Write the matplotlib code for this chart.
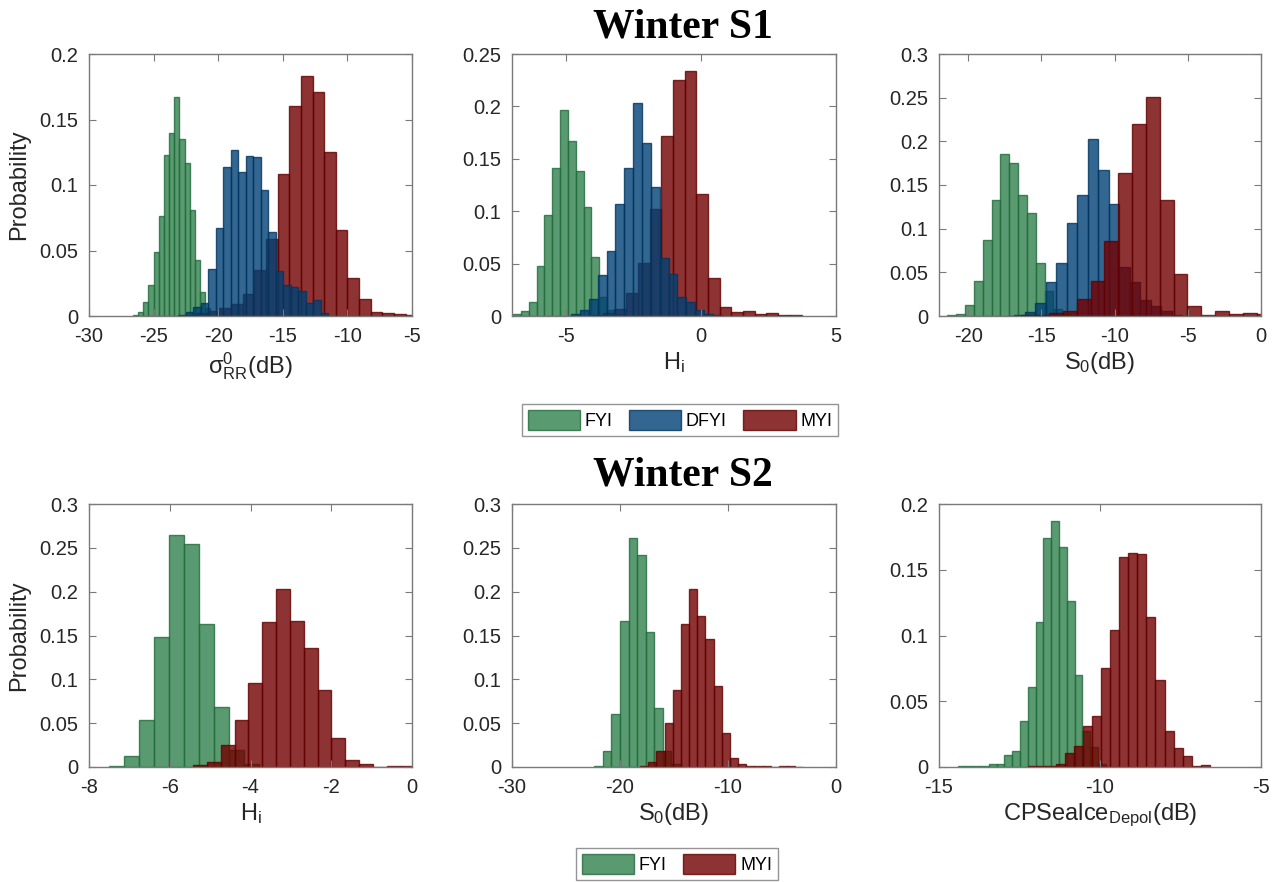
import numpy as np
import matplotlib
matplotlib.use("Agg")
import matplotlib.pyplot as plt
from matplotlib.patches import Patch
from matplotlib.ticker import FuncFormatter

plt.rcParams['font.family'] = ['Liberation Sans', 'DejaVu Sans']
plt.rcParams['mathtext.fontset'] = 'custom'
plt.rcParams['mathtext.rm'] = 'Liberation Sans'
plt.rcParams['mathtext.it'] = 'Liberation Sans:italic'

# ---- data: histogram bins (start, width) and probabilities ----
# Winter S1, sigma0_RR
s1a_fyi_start, s1a_fyi_width = -26.6, 0.4
s1a_fyi = [0.001, 0.003, 0.011, 0.024, 0.049, 0.076, 0.123, 0.140, 0.167,
           0.135, 0.117, 0.081, 0.043, 0.018, 0.006]
s1a_dfyi_start, s1a_dfyi_width = -23.1, 0.58
s1a_dfyi = [0.001, 0.003, 0.007, 0.010, 0.036, 0.067, 0.114, 0.127, 0.110,
            0.122, 0.121, 0.096, 0.064, 0.034, 0.024, 0.022, 0.019, 0.010,
            0.012, 0.002]
s1a_myi_start, s1a_myi_width = -22.6, 0.9
s1a_myi = [0.001, 0.002, 0.004, 0.006, 0.009, 0.017, 0.035, 0.059, 0.1085,
           0.160, 0.183, 0.171, 0.125, 0.066, 0.029, 0.013, 0.003, 0.0025,
           0.0015, 0.0005]

# Winter S1, H_i
s1b_fyi_start, s1b_fyi_width = -6.96, 0.29
s1b_fyi = [0.002, 0.005, 0.013, 0.048, 0.096, 0.141, 0.197, 0.167, 0.138,
           0.104, 0.056, 0.018, 0.006, 0.002]
s1b_dfyi_start, s1b_dfyi_width = -4.81, 0.328
s1b_dfyi = [0.002, 0.006, 0.016, 0.039, 0.0625, 0.107, 0.141, 0.203, 0.165,
            0.123, 0.055, 0.040, 0.018, 0.013, 0.006, 0.002, 0.001]
s1b_myi_start, s1b_myi_width = -4.07, 0.433
s1b_myi = [0.001, 0.0025, 0.007, 0.022, 0.051, 0.102, 0.172, 0.225, 0.234,
           0.116, 0.036, 0.009, 0.0035, 0.005, 0.002, 0.0025, 0.001, 0.0006]

# Winter S1, S_0
s1c_fyi_start, s1c_fyi_width = -21.43, 0.604
s1c_fyi = [0.0008, 0.002, 0.013, 0.040, 0.087, 0.133, 0.186, 0.175, 0.138,
           0.118, 0.061, 0.029, 0.008, 0.002]
s1c_dfyi_start, s1c_dfyi_width = -16.86, 0.718
s1c_dfyi = [0.001, 0.005, 0.0145, 0.0385, 0.061, 0.107, 0.138, 0.203, 0.167,
            0.128, 0.0565, 0.039, 0.018, 0.012, 0.006, 0.001]
s1c_myi_start, s1c_myi_width = -17.31, 0.945
s1c_myi = [0.0005, 0.0008, 0.0015, 0.003, 0.006, 0.020, 0.040, 0.086, 0.1635,
           0.220, 0.2505, 0.133, 0.048, 0.0115, 0.0015, 0.006, 0.0023, 0.003,
           0.002]

# Winter S2, H_i
s2a_fyi_start, s2a_fyi_width = -7.513, 0.373
s2a_fyi = [0.001, 0.013, 0.054, 0.148, 0.265, 0.254, 0.1635, 0.069, 0.019,
           0.003]
s2a_myi_start, s2a_myi_width = -5.424, 0.343
s2a_myi = [0.0027, 0.006, 0.0255, 0.054, 0.096, 0.165, 0.203, 0.166, 0.136,
           0.088, 0.0335, 0.008, 0.003, 0.0005, 0.001, 0.0015]

# Winter S2, S_0
s2b_fyi_start, s2b_fyi_width = -22.37, 0.79
s2b_fyi = [0.001, 0.018, 0.061, 0.166, 0.261, 0.242, 0.154, 0.067, 0.018,
           0.003]
s2b_myi_start, s2b_myi_width = -18.15, 0.757
s2b_myi = [0.001, 0.006, 0.018, 0.050, 0.0875, 0.1635, 0.2025, 0.172, 0.146,
           0.092, 0.039, 0.010, 0.003, 0.0008, 0.0015, 0.0008, 0.0004, 0.0008,
           0.0008, 0.0004]

# Winter S2, CPSealce_Depol
s2c_fyi_start, s2c_fyi_width = -14.42, 0.242
s2c_fyi = [0.0005, 0.0008, 0.0005, 0.0005, 0.002, 0.0025, 0.009, 0.012,
           0.035, 0.061, 0.110, 0.174, 0.187, 0.167, 0.1265, 0.070, 0.0275,
           0.015, 0.002]
s2c_myi_start, s2c_myi_width = -12.226, 0.282
s2c_myi = [0.0005, 0.0005, 0.001, 0.002, 0.011, 0.016, 0.0315, 0.039, 0.075,
           0.104, 0.1595, 0.163, 0.162, 0.114, 0.066, 0.0275, 0.0148, 0.0084,
           0.001, 0.0013]

# ---- styling ----
ALPHA = 0.8
COL = {'FYI': ('#31814c', '#1f6b3a'),
       'DFYI': ('#004074', '#00345f'),
       'MYI': ('#720000', '#600000')}
GRAY = '#7a7a7a'


def hist(ax, start, width, probs, kind):
    probs = np.asarray(probs)
    left = start + width * np.arange(len(probs))
    face, edge = COL[kind]
    ax.bar(left, probs, width=width, align='edge', color=face,
           edgecolor=edge, linewidth=1.0, alpha=ALPHA)


def style(ax, xlim, xticks, ylim, yticks, xlabel, ylabel=None):
    ax.set_xlim(xlim)
    ax.set_ylim(ylim)
    ax.set_xticks(xticks)
    ax.set_yticks(yticks)
    ax.yaxis.set_major_formatter(FuncFormatter(lambda v, p: '%g' % round(v, 3)))
    ax.xaxis.set_major_formatter(FuncFormatter(lambda v, p: '%g' % v))
    ax.tick_params(direction='in', top=True, right=True, length=5,
                   width=0.8, color=GRAY, labelsize=14.5, labelcolor='#262626')
    ax.tick_params(axis='x', pad=8)
    ax.tick_params(axis='y', pad=8)
    for s in ax.spines.values():
        s.set_color(GRAY)
        s.set_linewidth(1.0)
    ax.set_xlabel(xlabel, fontsize=17, color='#262626', labelpad=3)
    if ylabel:
        ax.set_ylabel(ylabel, fontsize=17, color='#262626', labelpad=6)


fig = plt.figure(figsize=(12.78, 8.82), dpi=100)

W, H = 1278.0, 882.0
cols = [(89, 323), (512, 324), (939, 322)]
rows = [(54, 316), (504, 767)]


def make_ax(r, c):
    x0, w = cols[c]
    y0, y1 = rows[r]
    return fig.add_axes([x0 / W, 1 - y1 / H, w / W, (y1 - y0) / H])


# top row
ax = make_ax(0, 0)
hist(ax, s1a_fyi_start, s1a_fyi_width, s1a_fyi, 'FYI')
hist(ax, s1a_myi_start, s1a_myi_width, s1a_myi, 'MYI')
hist(ax, s1a_dfyi_start, s1a_dfyi_width, s1a_dfyi, 'DFYI')
style(ax, (-30, -5), [-30, -25, -20, -15, -10, -5], (0, 0.2),
      [0, 0.05, 0.1, 0.15, 0.2],
      r'σ$^{\mathrm{0}}_{\mathrm{RR}}$(dB)', 'Probability')

ax = make_ax(0, 1)
hist(ax, s1b_fyi_start, s1b_fyi_width, s1b_fyi, 'FYI')
hist(ax, s1b_myi_start, s1b_myi_width, s1b_myi, 'MYI')
hist(ax, s1b_dfyi_start, s1b_dfyi_width, s1b_dfyi, 'DFYI')
style(ax, (-7, 5), [-5, 0, 5], (0, 0.25), [0, 0.05, 0.1, 0.15, 0.2, 0.25],
      r'H$_{\mathrm{i}}$')

ax = make_ax(0, 2)
hist(ax, s1c_fyi_start, s1c_fyi_width, s1c_fyi, 'FYI')
hist(ax, s1c_dfyi_start, s1c_dfyi_width, s1c_dfyi, 'DFYI')
hist(ax, s1c_myi_start, s1c_myi_width, s1c_myi, 'MYI')
style(ax, (-22, 0), [-20, -15, -10, -5, 0], (0, 0.3),
      [0, 0.05, 0.1, 0.15, 0.2, 0.25, 0.3], r'S$_{\mathrm{0}}$(dB)')

# bottom row
ax = make_ax(1, 0)
hist(ax, s2a_fyi_start, s2a_fyi_width, s2a_fyi, 'FYI')
hist(ax, s2a_myi_start, s2a_myi_width, s2a_myi, 'MYI')
style(ax, (-8, 0), [-8, -6, -4, -2, 0], (0, 0.3),
      [0, 0.05, 0.1, 0.15, 0.2, 0.25, 0.3], r'H$_{\mathrm{i}}$', 'Probability')

ax = make_ax(1, 1)
hist(ax, s2b_fyi_start, s2b_fyi_width, s2b_fyi, 'FYI')
hist(ax, s2b_myi_start, s2b_myi_width, s2b_myi, 'MYI')
style(ax, (-30, 0), [-30, -20, -10, 0], (0, 0.3),
      [0, 0.05, 0.1, 0.15, 0.2, 0.25, 0.3], r'S$_{\mathrm{0}}$(dB)')

ax = make_ax(1, 2)
hist(ax, s2c_fyi_start, s2c_fyi_width, s2c_fyi, 'FYI')
hist(ax, s2c_myi_start, s2c_myi_width, s2c_myi, 'MYI')
style(ax, (-15, -5), [-15, -10, -5], (0, 0.2), [0, 0.05, 0.1, 0.15, 0.2],
      r'CPSealce$_{\mathrm{Depol}}$(dB)')

# titles
for txt, yb in [('Winter S1', 38), ('Winter S2', 485)]:
    fig.text(683 / W, 1 - yb / H, txt, ha='center', va='baseline',
             fontfamily='Liberation Serif', fontweight='bold', fontsize=30)


def patch(kind):
    face, edge = COL[kind]
    return Patch(facecolor=face, edgecolor=edge, alpha=ALPHA, linewidth=1.0)


leg_kw = dict(loc='center', ncol=3, fontsize=13, frameon=True, fancybox=False,
              edgecolor=GRAY, handlelength=2.9, handleheight=1.3,
              handletextpad=0.25, columnspacing=0.9, borderpad=0.35,
              borderaxespad=0)
lg = fig.legend([patch('FYI'), patch('DFYI'), patch('MYI')],
                ['FYI', 'DFYI', 'MYI'],
                bbox_to_anchor=(680 / W, 1 - 420 / H), **leg_kw)
lg.get_frame().set_linewidth(1.0)
lg2 = fig.legend([patch('FYI'), patch('MYI')], ['FYI', 'MYI'],
                 bbox_to_anchor=(677 / W, 1 - 864 / H), **leg_kw)
lg2.get_frame().set_linewidth(1.0)

fig.savefig('out.png', dpi=100)
